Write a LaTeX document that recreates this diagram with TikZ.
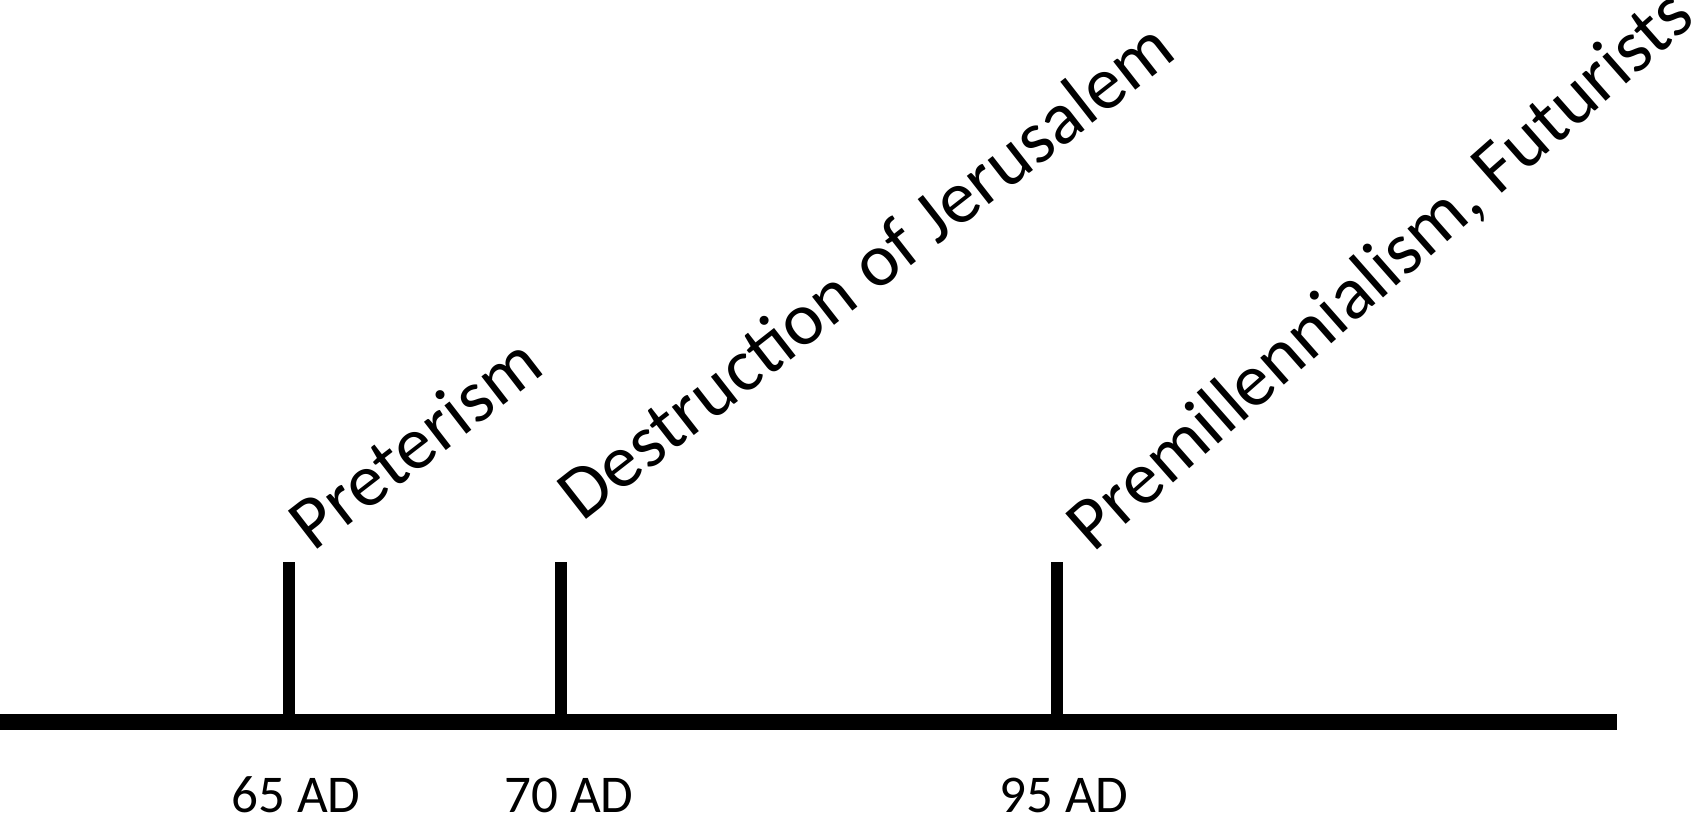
\documentclass[tikz,border=0pt]{standalone}
\usepackage{fontspec}
\setmainfont{Carlito}
\usepackage{tikz}
\usetikzlibrary{positioning}
\tikzset{
  axisline/.style = {line width=0.16cm, black},
  tickmark/.style = {line width=0.12cm, black},
  yearlabel/.style = {font=\fontsize{15.1pt}{18pt}\selectfont, inner sep=0pt, anchor=base},
  eventlabel/.style = {font=\fontsize{21.3pt}{25pt}\selectfont, inner sep=0pt, anchor=base west, rotate=#1},
}

\begin{document}
\begin{tikzpicture}[x=0.01cm, y=0.01cm]
  \useasboundingbox (0,0) rectangle (1696,821);

  \coordinate (start) at (0,99);
  \coordinate (end) at (1617,99);
  \draw[axisline] (start) -- (end);

  \coordinate (t65) at (289,99);
  \coordinate (t70) at (561,99);
  \coordinate (t95) at (1057,99);
  \draw[tickmark] (t65) -- ++(0,160) coordinate (top65);
  \draw[tickmark] (t70) -- ++(0,160) coordinate (top70);
  \draw[tickmark] (t95) -- ++(0,160) coordinate (top95);

  \node[yearlabel] (l65) at (296,8) {65 AD};
  \node[yearlabel] (l70) at (569,8) {70 AD};
  \node[yearlabel] (l95) at (1064,8) {95 AD};

  \node[eventlabel=37.7] (preterism) at (313,268) {Preterism};
  \node[eventlabel=38] (jerusalem) at (582,298) {Destruction of Jerusalem};
  \node[eventlabel=41.4] (futurists) at (1093,267) {Premillennialism, Futurists};
\end{tikzpicture}
\end{document}
